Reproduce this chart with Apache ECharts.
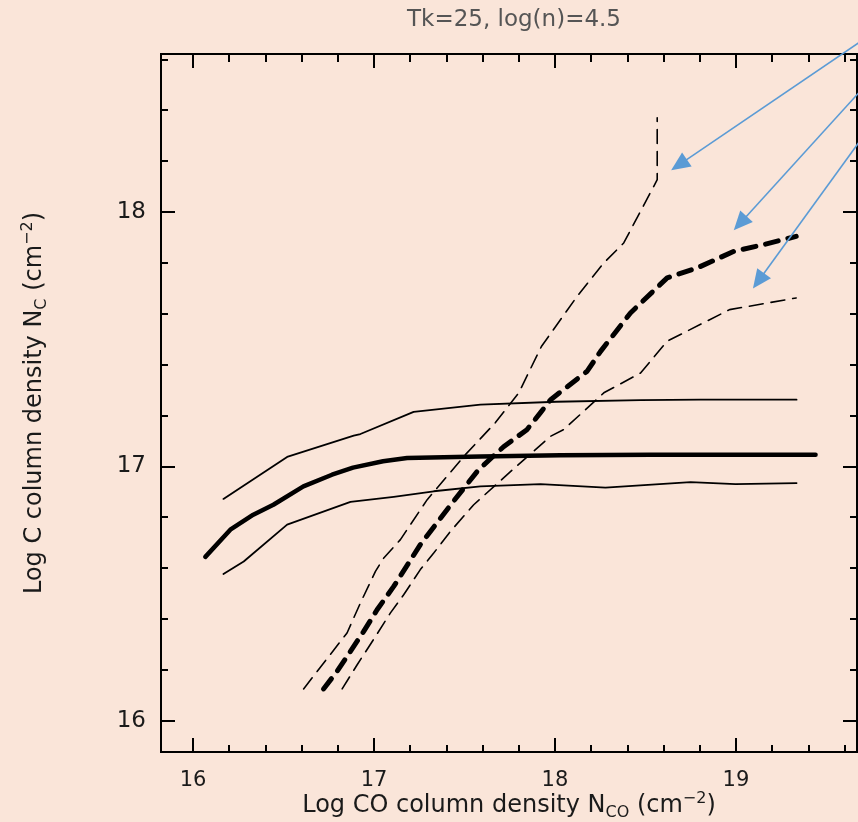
<!DOCTYPE html>
<html>
<head>
<meta charset="utf-8">
<script src="https://cdn.jsdelivr.net/npm/echarts@6/dist/echarts.min.js"></script>
<style>
  html, body { margin: 0; padding: 0; background: #FAE5D9; }
  #main { width: 858px; height: 822px; }
</style>
</head>
<body>
<div id="main"></div>
<script>
// axis ranges and ticks
var xRange = [15.823, 19.669];
var yRange = [15.877, 18.621];
var xMajor = [16, 17, 18, 19];
var xMinor = [16.2, 16.4, 16.6, 16.8, 17.2, 17.4, 17.6, 17.8, 18.2, 18.4, 18.6, 18.8, 19.2, 19.4, 19.6];
var yMajor = [16, 17, 18];
var yMinor = [16.2, 16.4, 16.6, 16.8, 17.2, 17.4, 17.6, 17.8, 18.2, 18.4, 18.6];

// N_C vs N_CO, solid curves
var solidUpper = [[16.168, 16.872], [16.52, 17.037], [16.888, 17.121], [16.925, 17.127], [17.219, 17.214],
  [17.588, 17.243], [18.008, 17.254], [18.473, 17.26], [18.805, 17.262], [19.335, 17.262]];
var solidMid = [[16.068, 16.644], [16.206, 16.751], [16.333, 16.81], [16.444, 16.849], [16.61, 16.921],
  [16.768, 16.967], [16.884, 16.995], [17.05, 17.02], [17.183, 17.033], [17.588, 17.039],
  [18.03, 17.044], [18.528, 17.046], [19.44, 17.046]];
var solidLower = [[16.168, 16.577], [16.28, 16.626], [16.52, 16.771], [16.87, 16.86], [17.109, 16.88],
  [17.33, 16.902], [17.588, 16.921], [17.92, 16.93], [18.279, 16.916], [18.749, 16.938],
  [18.998, 16.93], [19.335, 16.934]];

// dashed curves
var dashUpper = [[16.611, 16.125], [16.722, 16.227], [16.851, 16.345], [16.925, 16.463], [17.008, 16.587],
  [17.054, 16.64], [17.146, 16.712], [17.294, 16.869], [17.505, 17.046], [17.671, 17.172],
  [17.8, 17.289], [17.925, 17.471], [18.123, 17.669], [18.27, 17.8], [18.38, 17.878],
  [18.546, 18.101], [18.565, 18.127], [18.565, 18.37]];
var dashMid = [[16.721, 16.125], [16.796, 16.194], [16.943, 16.351], [17.017, 16.436], [17.109, 16.528],
  [17.256, 16.692], [17.432, 16.856], [17.578, 16.987], [17.716, 17.077], [17.845, 17.144],
  [17.92, 17.211], [17.976, 17.262], [18.178, 17.374], [18.252, 17.452], [18.417, 17.603],
  [18.62, 17.741], [18.786, 17.78], [18.988, 17.845], [19.154, 17.872], [19.333, 17.904]];
var dashLower = [[16.824, 16.125], [16.907, 16.22], [17.008, 16.331], [17.091, 16.424], [17.164, 16.495],
  [17.256, 16.594], [17.33, 16.659], [17.422, 16.744], [17.551, 16.849], [17.754, 16.979],
  [17.975, 17.118], [18.049, 17.145], [18.27, 17.289], [18.473, 17.367], [18.62, 17.492],
  [18.712, 17.525], [18.965, 17.616], [19.333, 17.662]];

// blue arrows: [from, to] in data units
var arrows = [
  [[19.678, 18.665], [18.642, 18.164]],
  [[19.678, 18.468], [18.988, 17.928]],
  [[19.678, 18.272], [19.094, 17.699]]
];

var FONT = 'DejaVu Sans';
var INK = '#1a1a1a';

function axis(pos, range, ticks, len, label) {
  return {
    type: 'value',
    position: pos,
    min: range[0],
    max: range[1],
    axisLine: { show: true, onZero: false, lineStyle: { color: '#000', width: 2 } },
    axisTick: { show: true, inside: true, length: len, customValues: ticks, lineStyle: { color: '#000', width: 2 } },
    axisLabel: label ? label : { show: false },
    splitLine: { show: false }
  };
}

var xLab = axis('bottom', xRange, xMajor, 14, {
  show: true, customValues: xMajor, margin: 18,
  fontFamily: FONT, fontSize: 21, color: INK
});
xLab.name = '{a|Log CO column density N}{s|CO}{a| (cm}{p|−2}{a|)}';
xLab.nameLocation = 'middle';
xLab.nameGap = 39;
xLab.nameMoveOverlap = false;
xLab.nameTextStyle = {
  fontFamily: FONT, color: INK,
  rich: {
    a: { fontFamily: FONT, fontSize: 24, lineHeight: 30, color: INK },
    s: { fontFamily: FONT, fontSize: 16, lineHeight: 14, verticalAlign: 'bottom', color: INK },
    p: { fontFamily: FONT, fontSize: 16, lineHeight: 12, verticalAlign: 'top', color: INK }
  }
};

var yLab = axis('left', yRange, yMajor, 14, {
  show: true, customValues: yMajor, margin: 15,
  fontFamily: FONT, fontSize: 23, color: INK
});
yLab.name = '{a|Log C column density N}{s|C}{a| (cm}{p|−2}{a|)}';
yLab.nameLocation = 'middle';
yLab.nameGap = 111;
yLab.nameMoveOverlap = false;
yLab.nameTextStyle = {
  fontFamily: FONT, color: INK,
  rich: {
    a: { fontFamily: FONT, fontSize: 24, lineHeight: 30, color: INK },
    s: { fontFamily: FONT, fontSize: 16, lineHeight: 14, verticalAlign: 'bottom', color: INK },
    p: { fontFamily: FONT, fontSize: 16, lineHeight: 12, verticalAlign: 'top', color: INK }
  }
};

function line(data, width, dash) {
  return {
    type: 'line',
    data: data,
    showSymbol: false,
    symbol: 'none',
    smooth: false,
    silent: true,
    lineStyle: { color: '#000', width: width, type: dash || 'solid', cap: 'round', join: 'round' }
  };
}

var chart = echarts.init(document.getElementById('main'), null, { renderer: 'canvas' });

chart.setOption({
  backgroundColor: '#FAE5D9',
  animation: false,
  title: {
    text: 'Tk=25, log(n)=4.5',
    left: 509,
    textAlign: 'center',
    top: 4,
    textStyle: { fontFamily: FONT, fontSize: 23, fontWeight: 'normal', color: '#555' }
  },
  grid: { left: 161, top: 54, right: 1, bottom: 70, containLabel: false, outerBoundsMode: 'none' },
  xAxis: [
    xLab,
    axis('bottom', xRange, xMinor, 7),
    axis('top', xRange, xMajor, 14),
    axis('top', xRange, xMinor, 8)
  ],
  yAxis: [
    yLab,
    axis('left', yRange, yMinor, 7),
    axis('right', yRange, yMajor, 14),
    axis('right', yRange, yMinor, 7)
  ],
  series: [
    line(solidUpper, 1.8),
    line(solidMid, 4.5),
    line(solidLower, 1.8),
    line(dashUpper, 1.6, [14, 8]),
    line(dashMid, 5, [13, 10]),
    line(dashLower, 1.6, [14, 8])
  ]
});

// arrows drawn from data units through the chart's own conversion
var blue = '#5B9BD5';
var graphics = [];
arrows.forEach(function (a) {
  var p0 = chart.convertToPixel({ gridIndex: 0 }, a[0]);
  var p1 = chart.convertToPixel({ gridIndex: 0 }, a[1]);
  var dx = p1[0] - p0[0], dy = p1[1] - p0[1];
  var d = Math.sqrt(dx * dx + dy * dy);
  var ux = dx / d, uy = dy / d;
  var hl = 19, hw = 8.5;
  var bx = p1[0] - ux * hl, by = p1[1] - uy * hl;
  graphics.push({
    type: 'line',
    shape: { x1: p0[0], y1: p0[1], x2: bx + ux * 2, y2: by + uy * 2 },
    style: { stroke: blue, lineWidth: 1.6 },
    z: 100
  });
  graphics.push({
    type: 'polygon',
    shape: { points: [[p1[0], p1[1]], [bx - uy * hw, by + ux * hw], [bx + uy * hw, by - ux * hw]] },
    style: { fill: blue },
    z: 100
  });
});
chart.setOption({ graphic: graphics });
</script>
</body>
</html>
